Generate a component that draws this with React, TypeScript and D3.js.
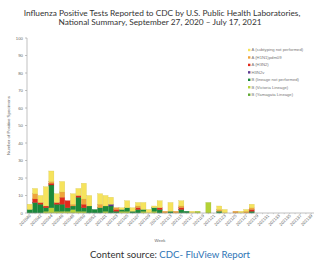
import * as d3 from "d3";

const weeks = [
  "202040", "202041", "202042", "202043", "202044", "202045", "202046", "202047", "202048", "202049",
  "202050", "202051", "202052", "202053", "202101", "202102", "202103", "202104", "202105", "202106",
  "202107", "202108", "202109", "202110", "202111", "202112", "202113", "202114", "202115", "202116",
  "202117", "202118", "202119", "202120", "202121", "202122", "202123", "202124", "202125", "202126",
  "202127", "202128", "202129", "202130", "202131", "202132", "202133", "202134", "202135", "202136",
  "202137", "202138", "202139",
];

// counts per week, 202040 .. 202128 (later weeks have no data)
const bYamagata = [0,0,0,0,0,0,0,0,0,0,0,0,0,0,0,0,0,0,0,0,0,0,0,0,0,0,0,0,0,0,0,0,0,0,0,0,0,0,0,0,0,0];
const bVictoria = [0,0,0,1,3,1,1,1,2,1,1,0,0,0,1,0,0,1,1,0,0,1,0,1,0,0,0,0,0,0,0,1,0,6,0,0,0,0,0,0,0,0];
const bNotDone = [2,6,5,2,13,4,4,2,2,8,2,4,2,3,3,4,1,1,2,1,2,1,0,2,2,0,1,0,2,1,0,0,0,0,0,1,0,0,0,0,0,1];
const h3n2v = [0,0,0,0,0,0,0,0,0,0,0,0,0,0,0,1,0,0,0,0,0,0,0,0,0,0,0,0,0,0,0,0,0,0,0,0,0,0,0,0,0,0];
const aH3N2 = [0,2,1,1,1,1,4,4,0,1,2,0,0,0,0,0,1,0,0,0,1,0,0,0,1,0,0,0,1,0,0,0,0,0,0,0,0,0,0,0,0,1];
const aH1N1 = [0,3,0,0,1,0,3,0,1,0,3,0,0,2,0,0,1,0,0,0,1,0,0,0,0,1,0,1,1,0,0,0,0,0,0,1,0,0,1,0,1,1];
const aNotSubtyped = [3,3,4,11,6,5,6,0,6,4,9,6,0,6,6,4,0,1,4,2,2,4,2,1,4,0,5,0,3,0,1,0,0,0,0,2,2,0,0,1,1,2];

const seriesNames = [
  "A (subtyping not performed)",
  "A (H1N1)pdm09",
  "A (H3N2)",
  "H3N2v",
  "B (lineage not performed)",
  "B (Victoria Lineage)",
  "B (Yamagata Lineage)",
];
const seriesValues = [aNotSubtyped, aH1N1, aH3N2, h3n2v, bNotDone, bVictoria, bYamagata];
const seriesColors = ["#f6e35c", "#f0a43a", "#e02a1c", "#5d3b91", "#1b8a3b", "#b4d236", "#5fa832"];

const yTicks = [0, 10, 20, 30, 40, 50, 60, 70, 80, 90, 100];

export default function App() {
  const width = 317;
  const height = 263;
  const left = 27;
  const right = 314;
  const top = 38;
  const bottom = 213;

  const x = d3.scaleBand().domain(weeks).range([left, right]).paddingInner(0.06).paddingOuter(0.03);
  const y = d3.scaleLinear().domain([0, 100]).range([bottom, top]);

  // stack bottom-up: last legend entry at the bottom
  const keys = seriesNames.slice().reverse();
  const rows = seriesValues[0].map((_, i) => {
    const r: Record<string, any> = { week: weeks[i] };
    seriesNames.forEach((n, k) => (r[n] = seriesValues[k][i]));
    return r;
  });
  const stacked = d3.stack<any>().keys(keys)(rows);
  const colorOf = (name: string) => seriesColors[seriesNames.indexOf(name)];

  const tickLabels = weeks.filter((_, i) => i % 2 === 0);

  return (
    <svg
      width={width}
      height={height}
      style={{ position: "absolute", left: 0, top: 0, background: "#fff" }}
      fontFamily="Lato, 'Open Sans', sans-serif"
    >
      <text x={162} y={16} fontSize={8.3} textAnchor="middle" fill="#333">
        Influenza Positive Tests Reported to CDC by U.S. Public Health Laboratories,
      </text>
      <text x={160} y={25} fontSize={8.3} textAnchor="middle" fill="#333">
        National Summary, September 27, 2020 – July 17, 2021
      </text>

      {/* y axis */}
      <line x1={left} x2={left} y1={top} y2={bottom} stroke="#999" strokeWidth={0.6} />
      {yTicks.map((t) => (
        <g key={t} transform={`translate(0,${y(t)})`}>
          <line x1={left - 2} x2={left} stroke="#999" strokeWidth={0.6} />
          <text x={left - 4} dy="0.35em" fontSize={4.3} textAnchor="end" fill="#666" fontFamily="'Liberation Sans', Arial, sans-serif">
            {t}
          </text>
        </g>
      ))}
      <text
        transform={`translate(10,${(top + bottom) / 2}) rotate(-90)`}
        fontSize={4.3}
        textAnchor="middle"
        fill="#666"
        fontFamily="'Liberation Sans', Arial, sans-serif"
      >
        Number of Positive Specimens
      </text>

      {/* bars */}
      {stacked.map((layer) => (
        <g key={layer.key} fill={colorOf(layer.key)}>
          {layer.map((d, i) =>
            d[1] - d[0] > 0 ? (
              <rect
                key={i}
                x={x(weeks[i])}
                width={x.bandwidth()}
                y={y(d[1])}
                height={y(d[0]) - y(d[1])}
                stroke={d3.color(colorOf(layer.key))!.darker(0.4).toString()}
                strokeWidth={0.3}
              />
            ) : null
          )}
        </g>
      ))}

      {/* x axis */}
      <line x1={left} x2={right} y1={bottom} y2={bottom} stroke="#999" strokeWidth={0.6} />
      {weeks.map((w) => (
        <line
          key={w}
          x1={x(w)! + x.bandwidth() / 2}
          x2={x(w)! + x.bandwidth() / 2}
          y1={bottom}
          y2={bottom + 1.2}
          stroke="#999"
          strokeWidth={0.4}
        />
      ))}
      {tickLabels.map((w) => (
        <text
          key={w}
          transform={`translate(${x(w)! + x.bandwidth() / 2 + 1.5},${bottom + 3}) rotate(-45)`}
          fontSize={4.3}
          textAnchor="end"
          fill="#666"
          fontFamily="'Liberation Sans', Arial, sans-serif"
        >
          {w}
        </text>
      ))}
      <text x={160} y={242} fontSize={4.3} textAnchor="middle" fill="#666" fontFamily="'Liberation Sans', Arial, sans-serif">
        Week
      </text>

      {/* legend */}
      {seriesNames.map((n, i) => (
        <g key={n} transform={`translate(248,${50 + i * 7.45})`}>
          <rect x={0} y={-1.2} width={2.4} height={2.4} fill={seriesColors[i]} />
          <text x={3.5} dy="0.35em" fontSize={4.2} fill="#777" fontFamily="'Liberation Sans', Arial, sans-serif">
            {n}
          </text>
        </g>
      ))}

      <text x={170} y={258} fontSize={9.6} textAnchor="middle" fill="#333">
        Content source: <tspan fill="#2e74b5">CDC- FluView Report</tspan>
      </text>
    </svg>
  );
}
